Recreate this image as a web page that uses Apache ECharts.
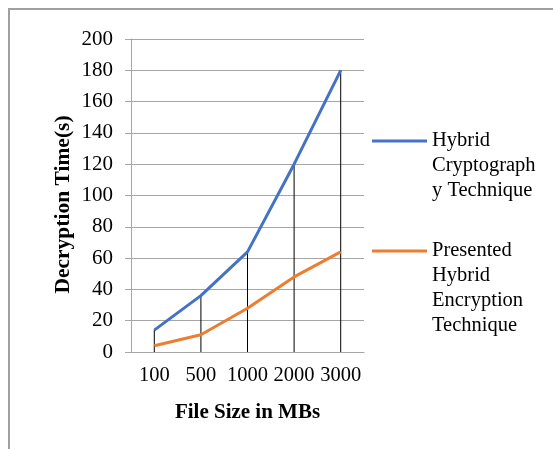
<!DOCTYPE html>
<html>
<head>
  <meta charset="utf-8" />
  <title>Decryption Time</title>
  <script src="https://cdn.jsdelivr.net/npm/echarts@6/dist/echarts.min.js"></script>
  <style>
    html, body { margin: 0; padding: 0; background: #ffffff; }
    #main { width: 553px; height: 449px; }
  </style>
</head>
<body>
  <div id="main"></div>
  <script type="text/javascript">
    // values
    var fileSizes = ['100', '500', '1000', '2000', '3000'];
    var hybridCrypto = [14, 36, 64, 120, 180];
    var presentedHybrid = [4, 11, 28, 48, 64];
    var seriesNames = ['Hybrid Cryptography Technique', 'Presented Hybrid Encryption Technique'];
    var legendLines = {
      'Hybrid Cryptography Technique': 'Hybrid\nCryptograph\ny Technique',
      'Presented Hybrid Encryption Technique': 'Presented\nHybrid\nEncryption\nTechnique'
    };

    var serif = "'Liberation Serif', 'Times New Roman', serif";
    var gridGray = '#a6a6a6';
    var lineH = 25;
    var iconW = 55;

    // legend icon: a short bar level with the first text line, inside a box as tall as the text
    function iconPath(lines) {
      var h = lines * lineH, c = lineH / 2;
      return 'path://M0,0L0,0 M0,' + (c - 1.5) + 'L' + iconW + ',' + (c - 1.5) +
             'L' + iconW + ',' + (c + 1.5) + 'L0,' + (c + 1.5) + 'Z M' + iconW + ',' + h + 'L' + iconW + ',' + h;
    }

    function legendFor(name, top, lines) {
      return {
        data: [name],
        orient: 'vertical',
        left: 372, top: top,
        padding: 0,
        icon: iconPath(lines),
        itemWidth: iconW, itemHeight: lines * lineH,
        itemStyle: {borderWidth: 0},
        selectedMode: false,
        formatter: function (n) { return legendLines[n]; },
        textStyle: {fontFamily: serif, fontSize: 20.5, color: '#000', lineHeight: lineH}
      };
    }

    var myChart = echarts.init(document.getElementById('main'), null, {renderer: 'canvas'});
    var option = {
      animation: false,
      backgroundColor: '#ffffff',
      graphic: [{
        type: 'rect', silent: true,
        shape: {x: 9, y: 9, width: 700, height: 600},
        style: {fill: 'none', stroke: '#a0a0a0', lineWidth: 2}
      }],
      legend: [
        legendFor(seriesNames[0], 128.5, 3),
        legendFor(seriesNames[1], 238.5, 4)
      ],
      grid: {left: 131, right: 189, top: 39, bottom: 97},
      xAxis: {
        type: 'category',
        data: fileSizes,
        boundaryGap: true,
        name: 'File Size in MBs',
        nameLocation: 'middle',
        nameGap: 50,
        nameTextStyle: {fontFamily: serif, fontSize: 21, fontWeight: 'bold', color: '#000'},
        axisLine: {lineStyle: {color: gridGray, width: 1}},
        axisTick: {show: false},
        axisLabel: {fontFamily: serif, fontSize: 20.5, color: '#000', margin: 13, interval: 0, hideOverlap: false}
      },
      yAxis: {
        type: 'value',
        min: 0, max: 200, interval: 20,
        name: 'Decryption Time(s)',
        nameLocation: 'middle',
        nameGap: 57,
        nameTextStyle: {fontFamily: serif, fontSize: 21.5, fontWeight: 'bold', color: '#000', padding: [0, 18, 0, 0]},
        axisLine: {show: true, lineStyle: {color: gridGray, width: 1}},
        axisTick: {show: true, length: 6, lineStyle: {color: gridGray}},
        axisLabel: {fontFamily: serif, fontSize: 21, color: '#000', margin: 18},
        splitLine: {lineStyle: {color: gridGray, width: 1}}
      },
      series: [
        {
          // drop lines from the upper series down to the axis
          name: 'drop', type: 'bar', data: hybridCrypto,
          barWidth: 1, z: 1,
          itemStyle: {color: '#000'},
          silent: true
        },
        {
          name: seriesNames[0], type: 'line', data: hybridCrypto,
          symbol: 'none', z: 3,
          color: '#4472c4',
          lineStyle: {color: '#4472c4', width: 3}
        },
        {
          name: seriesNames[1], type: 'line', data: presentedHybrid,
          symbol: 'none', z: 3,
          color: '#ed7d31',
          lineStyle: {color: '#ed7d31', width: 3}
        }
      ]
    };
    myChart.setOption(option);
  </script>
</body>
</html>
